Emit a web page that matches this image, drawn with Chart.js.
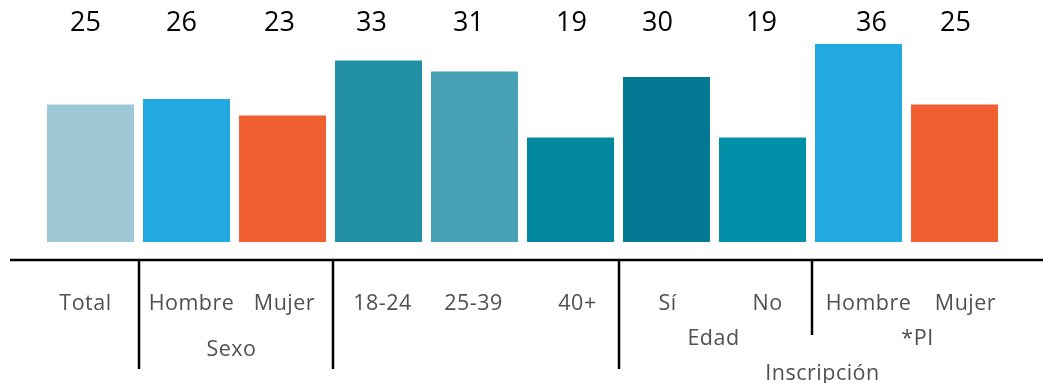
<!DOCTYPE html>
<html><head><meta charset="utf-8">
<script src="https://cdn.jsdelivr.net/npm/chart.js@4"></script>
<style>html,body{margin:0;padding:0;background:#fff;}#wrap{width:1043px;height:383px;}</style>
</head><body><div id="wrap"><canvas id="c" width="1043" height="383"></canvas></div>
<script>
const categories = ["Total","Hombre","Mujer","18-24","25-39","40+","Sí","No","Hombre","Mujer"];
const values = [25,26,23,33,31,19,30,19,36,25];
const barColors = ["#9EC8D5","#23A9E1","#F15E30","#2190A6","#47A0B4","#01879E","#047994","#0190A8","#23A9E1","#F15E30"];
const groupLabels = ["Sexo","Edad","*PI","Inscripción"];
const groupFrom = [1,6,8,6];
const groupTo = [2,7,9,9];
const separatorsAfter = [0,2,5,7];

const decor = {
  id:'decor',
  afterDatasetsDraw(chart, args, opts){
    const ctx = chart.ctx, x = chart.scales.x, area = chart.chartArea;
    ctx.save();
    // value labels
    ctx.fillStyle = '#000';
    ctx.font = '27px "Liberation Sans Narrow", "Open Sans", sans-serif';
    ctx.textAlign = 'center'; ctx.textBaseline = 'middle';
    const valShift = [-5,-5,-3,-7,-6,1,-9,-1,13,1];
    values.forEach((v,i)=>ctx.fillText(String(v), x.getPixelForValue(i)+valShift[i], area.top+1));
    // axis line
    ctx.strokeStyle = '#000'; ctx.lineWidth = 2.5;
    ctx.beginPath(); ctx.moveTo(10, 260); ctx.lineTo(chart.width, 260); ctx.stroke();
    // separators
    const bottoms = [369,369,369,335];
    const sepShift = [0,2,0,1];
    separatorsAfter.forEach((s,k)=>{
      const px = Math.round(x.getPixelForValue(s+0.5))+sepShift[k];
      ctx.beginPath(); ctx.moveTo(px, 260); ctx.lineTo(px, bottoms[k]); ctx.stroke();
    });
    // category labels
    ctx.fillStyle = '#505050';
    ctx.font = '21.5px "Open Sans", sans-serif';
    ctx.letterSpacing = '0.5px';
    const catShift = [-5,5,2,4,-1,7,1,5,10,11];
    categories.forEach((c,i)=>ctx.fillText(c, x.getPixelForValue(i)+catShift[i], 303.5));
    const rowY = [349.5,338.5,338.5,373.5];
    const gShift = [-3,-1,11,12];
    groupLabels.forEach((g,k)=>{
      const px = (x.getPixelForValue(groupFrom[k]) + x.getPixelForValue(groupTo[k]))/2 + gShift[k];
      ctx.fillText(g, px, rowY[k]);
    });
    ctx.restore();
  }
};

new Chart(document.getElementById('c'), {
  type:'bar',
  data:{labels:categories, datasets:[{data:values, backgroundColor:barColors, borderWidth:0, barPercentage:0.906, categoryPercentage:1}]},
  options:{
    responsive:false, animation:false,
    layout:{padding:{left:42.5,right:40.5,top:22,bottom:141}},
    plugins:{legend:{display:false},tooltip:{enabled:false}},
    scales:{
      x:{display:false},
      y:{display:false,min:0,max:40}
    }
  },
  plugins:[decor]
});
</script></body></html>
